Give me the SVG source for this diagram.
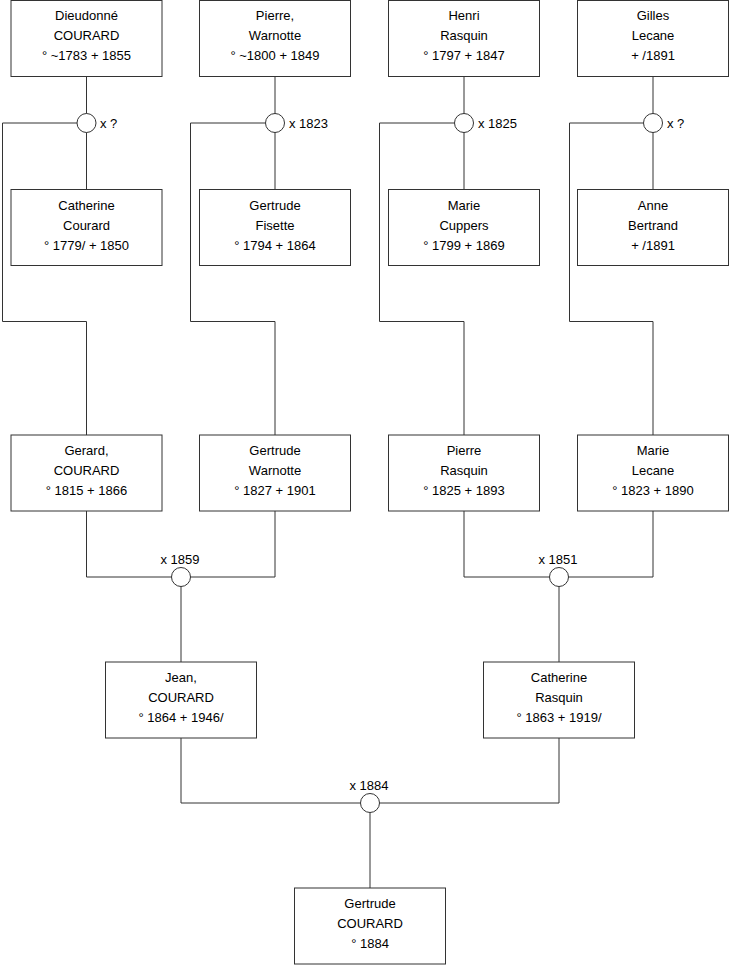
<svg xmlns="http://www.w3.org/2000/svg" width="740" height="975" viewBox="0 0 740 975">
<style>
rect.box{fill:#fff;stroke:#333;stroke-width:1}
.cn path{fill:none;stroke:#333;stroke-width:1}
.cn circle{fill:#fff;stroke:#333;stroke-width:1}
text{font-family:"Liberation Sans",Arial,sans-serif;font-size:13px;fill:#000}
.n text{text-anchor:middle}
.ml{text-anchor:middle}
</style>
<rect width="740" height="975" fill="#fff"/>
<g id="connectors" class="cn">
<path d="M86.5 76.5V189.5M77 123H2.5V321.5H86.5V435"/>
<path d="M275 76.5V189.5M265.5 123H190.5V321.5H275V435"/>
<path d="M464 76.5V189.5M454.5 123H379.5V321.5H464V435"/>
<path d="M653 76.5V189.5M643.5 123H569.5V321.5H653V435"/>
<path d="M86.5 511V577H275V511M181 577V662"/>
<path d="M464 511V577H653V511M559 577V662"/>
<path d="M181 738V803H559V738M370 803V888"/>
<circle cx="86.5" cy="123" r="9.5"/>
<circle cx="275" cy="123" r="9.5"/>
<circle cx="464" cy="123" r="9.5"/>
<circle cx="653" cy="123" r="9.5"/>
<circle cx="181" cy="577" r="9.5"/>
<circle cx="559" cy="577" r="9.5"/>
<circle cx="370" cy="803" r="9.5"/>
<text x="100" y="128">x ?</text>
<text x="289" y="128">x 1823</text>
<text x="478" y="128">x 1825</text>
<text x="667" y="128">x ?</text>
<text class="ml" x="180" y="563.5">x 1859</text>
<text class="ml" x="558" y="563.5">x 1851</text>
<text class="ml" x="369" y="789.5">x 1884</text>
</g>
<g id="n1" class="n"><rect class="box" x="11" y="0.5" width="151" height="76"/><text x="86.5" y="20">Dieudonné</text><text x="86.5" y="40">COURARD</text><text x="86.5" y="60">° ~1783 + 1855</text></g>
<g id="n2" class="n"><rect class="box" x="199.5" y="0.5" width="151" height="76"/><text x="275" y="20">Pierre,</text><text x="275" y="40">Warnotte</text><text x="275" y="60">° ~1800 + 1849</text></g>
<g id="n3" class="n"><rect class="box" x="388.5" y="0.5" width="151" height="76"/><text x="464" y="20">Henri</text><text x="464" y="40">Rasquin</text><text x="464" y="60">° 1797 + 1847</text></g>
<g id="n4" class="n"><rect class="box" x="577.5" y="0.5" width="151" height="76"/><text x="653" y="20">Gilles</text><text x="653" y="40">Lecane</text><text x="653" y="60">+ /1891</text></g>
<g id="n5" class="n"><rect class="box" x="11" y="189.5" width="151" height="76"/><text x="86.5" y="210">Catherine</text><text x="86.5" y="230">Courard</text><text x="86.5" y="250">° 1779/ + 1850</text></g>
<g id="n6" class="n"><rect class="box" x="199.5" y="189.5" width="151" height="76"/><text x="275" y="210">Gertrude</text><text x="275" y="230">Fisette</text><text x="275" y="250">° 1794 + 1864</text></g>
<g id="n7" class="n"><rect class="box" x="388.5" y="189.5" width="151" height="76"/><text x="464" y="210">Marie</text><text x="464" y="230">Cuppers</text><text x="464" y="250">° 1799 + 1869</text></g>
<g id="n8" class="n"><rect class="box" x="577.5" y="189.5" width="151" height="76"/><text x="653" y="210">Anne</text><text x="653" y="230">Bertrand</text><text x="653" y="250">+ /1891</text></g>
<g id="n9" class="n"><rect class="box" x="11" y="435" width="151" height="76"/><text x="86.5" y="455">Gerard,</text><text x="86.5" y="475">COURARD</text><text x="86.5" y="495">° 1815 + 1866</text></g>
<g id="n10" class="n"><rect class="box" x="199.5" y="435" width="151" height="76"/><text x="275" y="455">Gertrude</text><text x="275" y="475">Warnotte</text><text x="275" y="495">° 1827 + 1901</text></g>
<g id="n11" class="n"><rect class="box" x="388.5" y="435" width="151" height="76"/><text x="464" y="455">Pierre</text><text x="464" y="475">Rasquin</text><text x="464" y="495">° 1825 + 1893</text></g>
<g id="n12" class="n"><rect class="box" x="577.5" y="435" width="151" height="76"/><text x="653" y="455">Marie</text><text x="653" y="475">Lecane</text><text x="653" y="495">° 1823 + 1890</text></g>
<g id="n13" class="n"><rect class="box" x="105.5" y="662" width="151" height="76"/><text x="181" y="682">Jean,</text><text x="181" y="702">COURARD</text><text x="181" y="722">° 1864 + 1946/</text></g>
<g id="n14" class="n"><rect class="box" x="483.5" y="662" width="151" height="76"/><text x="559" y="682">Catherine</text><text x="559" y="702">Rasquin</text><text x="559" y="722">° 1863 + 1919/</text></g>
<g id="n15" class="n"><rect class="box" x="294.5" y="888" width="151" height="76"/><text x="370" y="908">Gertrude</text><text x="370" y="928">COURARD</text><text x="370" y="948">° 1884</text></g>
</svg>
